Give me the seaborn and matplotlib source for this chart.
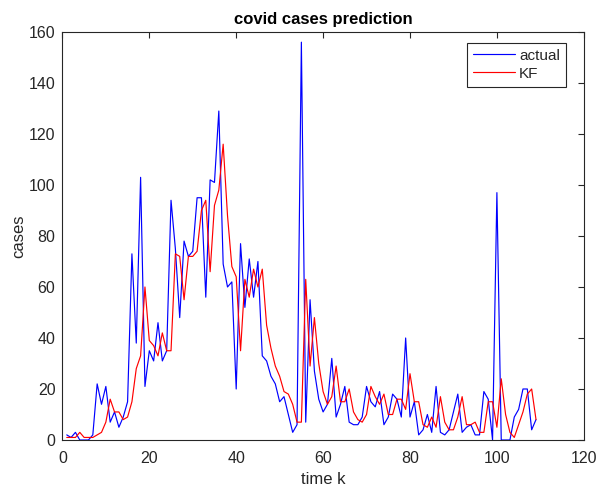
import matplotlib
matplotlib.use("Agg")
import matplotlib.pyplot as plt
import seaborn as sns
import pandas as pd
import numpy as np

# time steps
time_k = list(range(1, 110))

actual = [2, 1, 3, 0, 0, 0, 2, 22, 14, 21,
          7, 11, 5, 9, 15, 73, 38, 103, 21, 35,
          31, 46, 31, 35, 94, 75, 48, 78, 72, 74,
          95, 95, 56, 102, 101, 129, 69, 60, 62, 20,
          77, 52, 71, 56, 70, 33, 31, 25, 22, 15,
          17, 10, 3, 6, 156, 7, 55, 27, 16, 11,
          14, 32, 9, 14, 21, 7, 6, 6, 9, 21,
          15, 13, 19, 6, 9, 18, 16, 9, 40, 9,
          15, 2, 4, 10, 3, 21, 3, 2, 4, 11,
          18, 3, 5, 6, 2, 2, 19, 16, 0, 97,
          0, 0, 0, 9, 12, 20, 20, 4, 8]

kf = [1, 1, 1, 3, 1, 1, 1, 2, 3, 7,
      16, 11, 11, 8, 9, 15, 28, 33, 60, 39,
      37, 33, 42, 35, 35, 73, 72, 55, 72, 72,
      74, 90, 94, 66, 92, 98, 116, 88, 68, 64,
      35, 63, 56, 67, 60, 67, 45, 36, 29, 25,
      19, 18, 14, 7, 7, 63, 29, 48, 30, 19,
      14, 17, 29, 15, 15, 20, 11, 8, 7, 10,
      21, 17, 14, 18, 10, 10, 16, 16, 12, 26,
      15, 15, 6, 5, 9, 5, 17, 7, 4, 4,
      9, 17, 6, 6, 7, 3, 3, 15, 15, 5,
      24, 10, 3, 1, 6, 11, 18, 20, 8]

series_names = ["actual", "KF"]
series_colors = {"actual": "#0000FF", "KF": "#FF0000"}
x_ticks = [0, 20, 40, 60, 80, 100, 120]
y_ticks = [0, 20, 40, 60, 80, 100, 120, 140, 160]

df = pd.DataFrame({
    "time k": time_k * 2,
    "cases": actual + kf,
    "series": [series_names[0]] * len(actual) + [series_names[1]] * len(kf),
})

sns.set_theme(style="white")
plt.rcParams["font.family"] = ["Liberation Sans", "DejaVu Sans"]

fig = plt.figure(figsize=(6.0, 4.92), dpi=100)
ax = fig.add_axes([0.104, 0.1057, 0.869, 0.8293])

sns.lineplot(data=df, x="time k", y="cases", hue="series", hue_order=series_names,
             palette=series_colors, linewidth=0.85, ax=ax, legend=False)

ax.set_xlim(0, 120)
ax.set_ylim(0, 160)
ax.set_xticks(x_ticks)
ax.set_yticks(y_ticks)
ax.tick_params(direction="in", length=4, width=0.8, top=True, right=True,
               labelsize=11.5, colors="#262626", pad=5)
ax.tick_params(axis="x", pad=8)
for s in ax.spines.values():
    s.set_visible(True)
    s.set_color("#262626")
    s.set_linewidth(0.8)

ax.set_xlabel("time k", fontsize=12, color="#262626", labelpad=4)
ax.set_ylabel("cases", fontsize=12, color="#262626", labelpad=2)
ax.set_title("covid cases prediction", fontsize=12, fontweight="bold", color="black", pad=6)

handles = [plt.Line2D([], [], color=series_colors[n], linewidth=0.85) for n in series_names]
leg = ax.legend(handles, series_names, loc="upper right", bbox_to_anchor=(0.975, 0.985),
                fontsize=11, frameon=True, fancybox=False, framealpha=1,
                edgecolor="#262626", handlelength=2.7, borderpad=0.4,
                labelspacing=0.25, handletextpad=0.3, borderaxespad=0.3)
leg.get_frame().set_linewidth(0.8)

fig.savefig("out.png", dpi=100)
